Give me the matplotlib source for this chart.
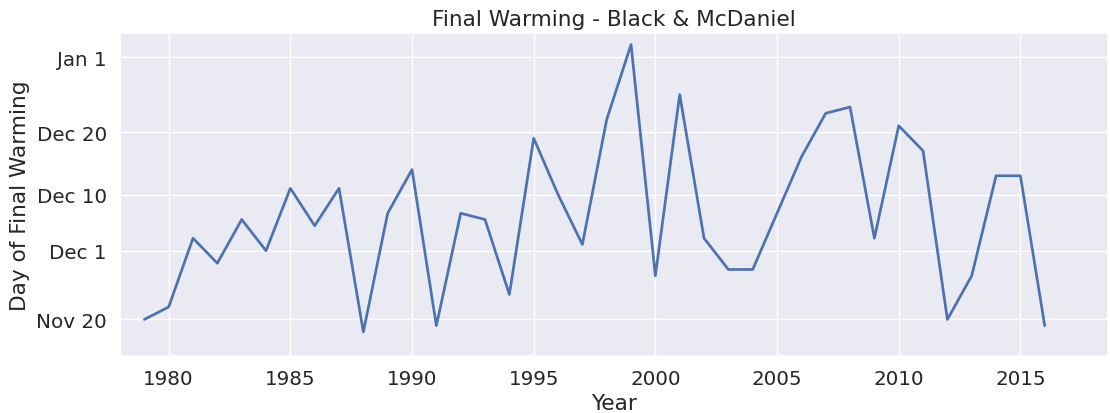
import matplotlib
matplotlib.use("Agg")
import matplotlib.pyplot as plt
import seaborn as sns

years = list(range(1979, 2017))
# day of year (Nov 20 = 324, Dec 1 = 335, Dec 10 = 344, Dec 20 = 354, Jan 1 = 366)
final_warming_day = [324, 326, 337, 333, 340, 335, 345, 339, 345, 322,
                     341, 348, 323, 341, 340, 328, 353, 344, 336, 356,
                     368, 331, 360, 337, 332, 332, 341, 350, 357, 358,
                     337, 355, 351, 324, 331, 347, 347, 323]
ytick_pos = [324, 335, 344, 354, 366]
ytick_labels = ["Nov 20", "Dec 1", "Dec 10", "Dec 20", "Jan 1"]
xtick_pos = [1980, 1985, 1990, 1995, 2000, 2005, 2010, 2015]

sns.set_theme(style="darkgrid", font_scale=1.3)

fig, ax = plt.subplots(figsize=(11.1, 4.14), dpi=100)
fig.subplots_adjust(left=120/1110, right=1108/1110, top=1-34.3/414, bottom=1-356.7/414)

ax.plot(years, final_warming_day, color="#4C72B0", linewidth=1.95)
ax.set_yticks(ytick_pos)
ax.set_yticklabels(ytick_labels)
ax.set_xticks(xtick_pos)
ax.set_xlim(1978.0, 2018.6)
ax.set_ylim(318.2, 369.8)
ax.set_xlabel("Year")
ax.set_ylabel("Day of Final Warming")
ax.set_title("Final Warming - Black & McDaniel")

fig.savefig("out.png", dpi=100)
